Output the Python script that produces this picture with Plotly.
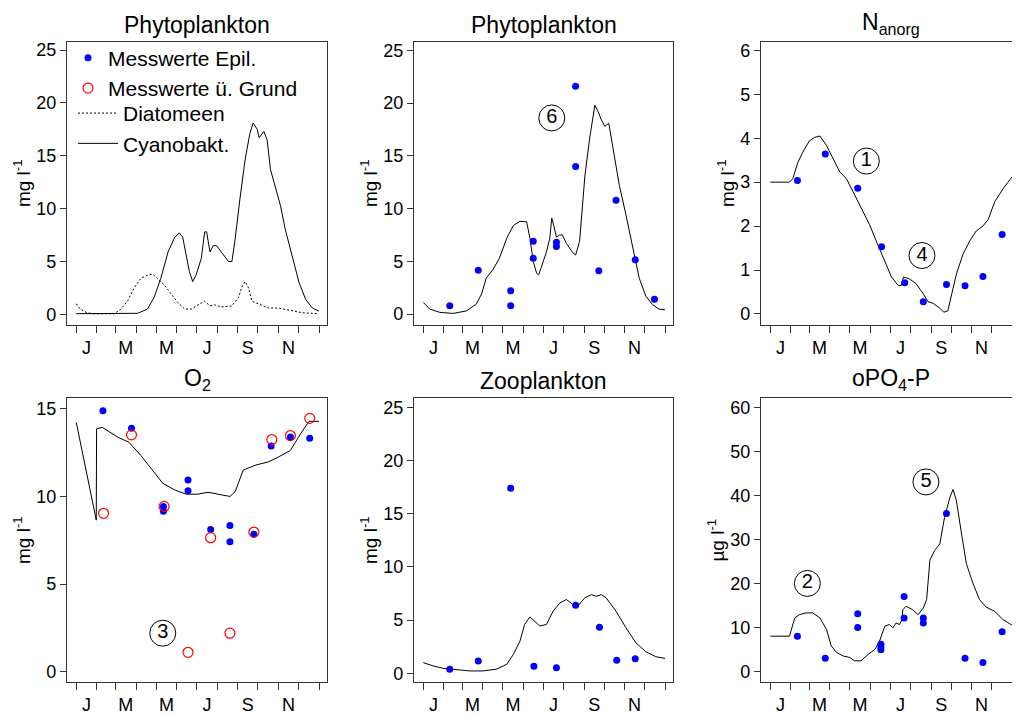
import plotly.graph_objects as go
from plotly.subplots import make_subplots

# ---------------- data (day of year, value) ----------------
month_bounds = [0, 31, 59, 90, 120, 151, 181, 212, 243, 273, 304, 334, 365]
month_centers = [15.5, 74.5, 135.5, 196.5, 258, 319]
month_labels = ["J", "M", "M", "J", "S", "N"]

# Panel 1: Phytoplankton model groups
cyano_day = [0, 92, 107, 117, 127, 138, 148, 155, 160, 165, 170, 175, 180, 188, 193, 196, 201, 206, 211,
             218, 229, 234, 239, 246, 254, 261, 266, 272, 275, 282, 287, 292, 299, 307, 314, 325, 335, 345,
             355, 365]
cyano_val = [0.06, 0.1, 0.5, 1.6, 3.4, 5.9, 7.3, 7.7, 7.3, 5.6, 4.05, 3.1, 3.7, 5.3, 7.8, 7.8, 5.9, 6.5, 6.5,
             5.9, 5.0, 5.0, 7.2, 10.9, 14.7, 17.1, 18.1, 17.5, 16.7, 17.3, 16.5, 13.7, 12.2, 10.3, 8.1, 5.3,
             3.0, 1.4, 0.6, 0.3]
diat_day = [0, 6, 16, 26, 57, 67, 77, 87, 97, 107, 115, 122, 132, 143, 153, 163, 173, 183, 193, 201, 208,
            218, 234, 244, 249, 254, 259, 264, 274, 289, 304, 325, 340, 365]
diat_val = [1.0, 0.5, 0.15, 0.06, 0.06, 0.5, 1.25, 2.5, 3.4, 3.7, 3.8, 3.4, 2.8, 1.9, 1.1, 0.5, 0.5, 0.9,
            1.25, 0.8, 0.9, 0.7, 0.8, 1.6, 2.6, 3.1, 2.5, 1.25, 1.0, 0.6, 0.6, 0.3, 0.15, 0.06]

# Panel 2: Phytoplankton total
phyto_day = [0, 10, 25, 45, 65, 80, 88, 95, 105, 115, 126, 136, 146, 156, 161, 166, 171, 174, 178, 186,
             191, 194, 197, 201, 206, 210, 216, 226, 230, 236, 244, 251, 259, 264, 269, 274, 280, 284, 289,
             296, 306, 316, 326, 336, 346, 356, 365]
phyto_val = [1.1, 0.47, 0.16, 0.06, 0.3, 0.94, 1.9, 3.4, 4.2, 5.3, 7.2, 8.4, 8.8, 8.75, 7.2, 5.0, 3.9, 3.7,
             4.4, 5.9, 7.2, 9.1, 8.4, 7.3, 7.5, 7.5, 6.7, 5.8, 5.6, 6.9, 13.1, 16.6, 19.8, 19.2, 18.4, 17.8,
             18.1, 16.6, 14.4, 12.2, 9.4, 6.25, 3.4, 1.7, 0.9, 0.47, 0.4]
phyto_obs_day = [40, 83, 132, 132, 166, 166, 201, 201, 230, 230, 265, 291, 320, 349]
phyto_obs_val = [0.8, 4.15, 2.2, 0.8, 6.9, 5.3, 6.8, 6.4, 21.6, 14.0, 4.1, 10.8, 5.15, 1.4]

# Panel 3: N anorg
n_day = [0, 29, 34, 42, 49, 59, 67, 75, 85, 95, 105, 115, 125, 137, 150, 160, 170, 183, 193, 198, 201,
         210, 220, 231, 238, 246, 256, 262, 268, 273, 281, 291, 301, 311, 321, 329, 339, 352, 365]
n_val = [3.0, 3.0, 3.08, 3.46, 3.68, 3.94, 4.02, 4.05, 3.83, 3.53, 3.23, 3.08, 2.78, 2.41, 2.03, 1.66,
         1.29, 0.84, 0.65, 0.65, 0.84, 0.8, 0.69, 0.46, 0.28, 0.24, 0.13, 0.04, 0.07, 0.39, 0.91, 1.36,
         1.66, 1.89, 2.0, 2.15, 2.56, 2.86, 3.12]
n_obs_day = [41, 83, 132, 168, 203, 231, 266, 294, 321, 350]
n_obs_val = [3.04, 3.64, 2.86, 1.53, 0.71, 0.28, 0.67, 0.64, 0.85, 1.81]

# Panel 4: O2
o2_day = [0, 30, 30.5, 39, 62, 79, 97, 117, 130, 148, 165, 183, 198, 213, 231, 239, 251, 269, 289, 304,
          322, 337, 350, 365]
o2_val = [14.2, 8.64, 13.84, 13.93, 13.37, 13.08, 12.33, 11.39, 10.74, 10.36, 10.12, 10.12, 10.23, 10.12,
          9.99, 10.27, 11.49, 11.77, 11.96, 12.24, 12.61, 13.55, 14.27, 14.27]
o2_epi_day = [40, 83, 131, 131, 168, 168, 202, 231, 231, 267, 293, 322, 351]
o2_epi_val = [14.87, 13.87, 9.42, 9.14, 10.93, 10.31, 8.11, 8.33, 7.41, 7.83, 12.86, 13.37, 13.31]
o2_grd_day = [41, 83, 132, 168, 202, 231, 267, 294, 322, 351]
o2_grd_val = [9.03, 13.5, 9.42, 1.11, 7.64, 2.2, 7.96, 13.23, 13.46, 14.44]

# Panel 5: Zooplankton
zoo_day = [0, 15, 30, 50, 70, 90, 110, 126, 136, 146, 153, 161, 168, 176, 186, 196, 206, 216, 226, 233,
           244, 254, 261, 269, 276, 291, 306, 321, 336, 351, 365]
zoo_val = [1.0, 0.69, 0.47, 0.38, 0.22, 0.22, 0.38, 0.84, 1.78, 3.03, 4.6, 5.3, 4.9, 4.44, 4.6, 5.84, 6.6,
           6.94, 6.47, 6.3, 7.1, 7.4, 7.25, 7.4, 7.1, 5.84, 4.28, 2.87, 2.03, 1.56, 1.4]
zoo_obs_day = [40, 83, 132, 167, 201, 230, 266, 292, 320]
zoo_obs_val = [0.38, 1.16, 17.4, 0.66, 0.53, 6.4, 4.34, 1.22, 1.37]

# Panel 6: oPO4-P
p_day = [0, 29, 37, 44, 54, 64, 75, 85, 92, 100, 110, 120, 127, 137, 148, 158, 165, 173, 180, 185, 190,
         195, 199, 200, 205, 215, 223, 231, 236, 241, 248, 256, 263, 271, 276, 281, 288, 296, 306, 316,
         326, 339, 351, 365]
p_val = [8.0, 8.0, 12.15, 12.9, 13.3, 13.3, 12.15, 9.5, 5.8, 4.3, 3.5, 3.15, 2.4, 2.4, 3.9, 5.0, 6.9, 10.3,
         10.65, 9.9, 11.0, 10.65, 11.8, 14.0, 14.8, 14.0, 12.9, 14.4, 16.3, 25.3, 27.5, 29.0, 35.0, 39.5,
         41.4, 38.8, 32.0, 24.5, 20.0, 16.3, 14.6, 13.65, 11.8, 10.5]
p_obs_day = [41, 83, 132, 132, 167, 167, 167, 202, 202, 231, 231, 266, 294, 321, 350]
p_obs_val = [8.0, 3.0, 13.1, 10.0, 6.15, 5.55, 4.9, 17.0, 12.15, 12.15, 11.0, 35.9, 3.0, 2.0, 9.0]

# circled reference numbers: label, day, value, panel
mark_labels = ["6", "1", "4", "3", "2", "5"]
mark_day = [194, 145, 229, 130, 56, 235]
mark_val = [18.6, 3.48, 1.33, 2.2, 20.0, 43.1]
mark_panel = [2, 3, 3, 4, 6, 6]

titles = ["Phytoplankton", "Phytoplankton", "N<sub>anorg</sub>", "O<sub>2</sub>", "Zooplankton",
          "oPO<sub>4</sub>-P"]
y_titles = ["mg l<sup>-1</sup>"] * 5 + ["µg l<sup>-1</sup>"]
y_ranges = [[-1.0, 25.8], [-1.03, 25.84], [-0.25, 6.2], [-0.6, 15.6], [-0.85, 25.9], [-2.5, 62.2]]
y_ticks = [[0, 5, 10, 15, 20, 25], [0, 5, 10, 15, 20, 25], [0, 1, 2, 3, 4, 5, 6], [0, 5, 10, 15],
           [0, 5, 10, 15, 20, 25], [0, 10, 20, 30, 40, 50, 60]]

# ---------------- figure ----------------
FONT = "Liberation Sans, Arial, sans-serif"
BLUE = "#0000FF"
RED = "#FF0000"
AX = "#333333"

fig = make_subplots(rows=2, cols=3)


def pos(i):
    return (i // 3 + 1, i % 3 + 1)


line_style = dict(color="black", width=1)
dot_marker = dict(color=BLUE, size=7, symbol="circle")
ring_marker = dict(color=RED, size=10, symbol="circle-open", line=dict(color=RED, width=1.2))

# panel 1
fig.add_trace(go.Scatter(x=diat_day, y=diat_val, mode="lines", name="Diatomeen",
                         line=dict(color="black", width=1, dash="2px,2px"), legend="legend2", legendrank=3),
              row=1, col=1)
fig.add_trace(go.Scatter(x=cyano_day, y=cyano_val, mode="lines", name="Cyanobakt.",
                         line=line_style, legend="legend2", legendrank=4), row=1, col=1)
# panel 2
fig.add_trace(go.Scatter(x=phyto_day, y=phyto_val, mode="lines", line=line_style, showlegend=False),
              row=1, col=2)
fig.add_trace(go.Scatter(x=phyto_obs_day, y=phyto_obs_val, mode="markers", marker=dot_marker,
                         name="Messwerte Epil.", legendrank=1), row=1, col=2)
# panel 3
fig.add_trace(go.Scatter(x=n_day, y=n_val, mode="lines", line=line_style, showlegend=False), row=1, col=3)
fig.add_trace(go.Scatter(x=n_obs_day, y=n_obs_val, mode="markers", marker=dot_marker, showlegend=False),
              row=1, col=3)
# panel 4
fig.add_trace(go.Scatter(x=o2_day, y=o2_val, mode="lines", line=line_style, showlegend=False), row=2, col=1)
fig.add_trace(go.Scatter(x=o2_epi_day, y=o2_epi_val, mode="markers", marker=dot_marker, showlegend=False),
              row=2, col=1)
fig.add_trace(go.Scatter(x=o2_grd_day, y=o2_grd_val, mode="markers", marker=ring_marker,
                         name="Messwerte ü. Grund", legendrank=2), row=2, col=1)
# panel 5
fig.add_trace(go.Scatter(x=zoo_day, y=zoo_val, mode="lines", line=line_style, showlegend=False), row=2, col=2)
fig.add_trace(go.Scatter(x=zoo_obs_day, y=zoo_obs_val, mode="markers", marker=dot_marker, showlegend=False),
              row=2, col=2)
# panel 6
fig.add_trace(go.Scatter(x=p_day, y=p_val, mode="lines", line=line_style, showlegend=False), row=2, col=3)
fig.add_trace(go.Scatter(x=p_obs_day, y=p_obs_val, mode="markers", marker=dot_marker, showlegend=False),
              row=2, col=3)

# circled numbers
for lab, d, v, p in zip(mark_labels, mark_day, mark_val, mark_panel):
    r, c = pos(p - 1)
    fig.add_trace(go.Scatter(x=[d], y=[v], mode="markers+text", text=[lab], textposition="middle center",
                             textfont=dict(family=FONT, size=20, color="black"),
                             marker=dict(symbol="circle-open", size=26, color="black",
                                         line=dict(color="black", width=1)),
                             showlegend=False, hoverinfo="skip"), row=r, col=c)

# page body has an 8px margin: lay out in figure coords = screen coords - 8
OFF = 8
W, H = 1020 - OFF, 715 - OFF


def px(s):
    return (s - OFF) / W


def py(s):
    return 1 - (s - OFF) / H


x_doms = [[px(67), px(327)], [px(414), px(673)], [px(761), 1.0]]
y_doms = [[py(328), py(41)], [py(690), py(402)]]

annotations = []
for i in range(6):
    r, c = pos(i)
    xd = x_doms[c - 1]
    yd = y_doms[r - 1]
    fig.update_xaxes(row=r, col=c, domain=xd, range=[-14, 377],
                     tickvals=month_centers, ticktext=month_labels, ticks="outside", ticklen=6,
                     tickcolor="rgba(0,0,0,0)", showline=True, linecolor=AX, linewidth=1.2,
                     mirror=True, showgrid=False, zeroline=False,
                     tickfont=dict(family=FONT, size=18, color="black"),
                     minor=dict(tickvals=month_bounds, ticks="outside", ticklen=7, tickcolor=AX,
                                tickwidth=1, showgrid=False))
    fig.update_yaxes(row=r, col=c, domain=yd, range=y_ranges[i], tickvals=y_ticks[i],
                     ticks="outside", ticklen=6, tickcolor=AX, showline=True, linecolor=AX,
                     linewidth=1.2, mirror=(c != 3), showgrid=False, zeroline=False,
                     tickfont=dict(family=FONT, size=18, color="black"),
                     title=dict(text=y_titles[i], font=dict(family=FONT, size=19, color="black"),
                                standoff=0))
    annotations.append(dict(text=titles[i], x=(xd[0] + xd[1]) / 2, y=yd[1], xref="paper", yref="paper",
                            xanchor="center", yanchor="bottom", yshift=2, showarrow=False,
                            font=dict(family=FONT, size=23, color="black")))

fig.update_layout(
    width=W, height=H, margin=dict(l=0, r=0, t=0, b=0),
    paper_bgcolor="white", plot_bgcolor="white",
    annotations=annotations,
    legend=dict(x=px(68), y=py(37), xanchor="left", yanchor="top", bgcolor="rgba(0,0,0,0)",
                font=dict(family=FONT, size=21, color="black"), itemwidth=30, tracegroupgap=0),
    legend2=dict(x=px(73), y=py(93), xanchor="left", yanchor="top", bgcolor="rgba(0,0,0,0)",
                 font=dict(family=FONT, size=21, color="black"), itemwidth=40, tracegroupgap=0),
)

fig.write_html("out.html")
